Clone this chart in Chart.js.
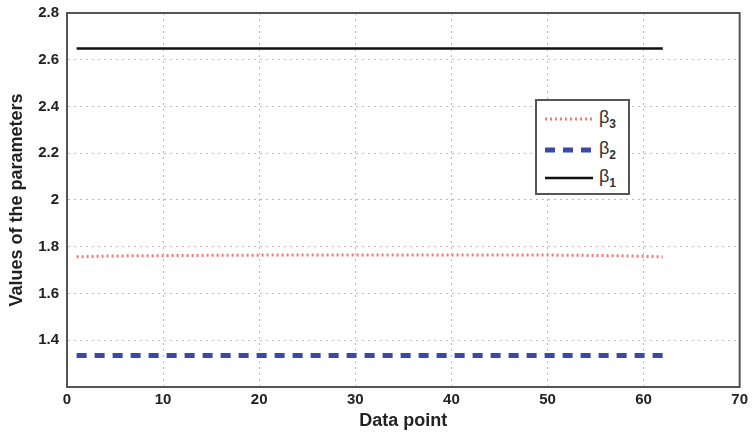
<!DOCTYPE html>
<html lang="en">
<head>
  <meta charset="UTF-8">
  <title>Values of the parameters</title>
  <script src="https://cdn.jsdelivr.net/npm/chart.js"></script>
  <style>
    body { margin: 0; background: #fff; }
    #wrap { position: relative; width: 752px; height: 436px; }
    /* legend box sits inside the plot, like the original */
    #legend {
      position: absolute; left: 535px; top: 99px; width: 91px; height: 92px;
      border: 2px solid #555; background: #fff;
      font-family: "Liberation Sans", Arial, sans-serif; font-weight: bold; color: #333;
    }
    .row { position: absolute; left: 8px; height: 20px; display: flex; align-items: center; }
    .row svg { display: block; }
    .row span { margin-left: 6px; font-size: 18px; font-weight: normal; line-height: 1; }
    .row sub { font-size: 12px; font-weight: bold; }
  </style>
</head>
<body>
  <div id="wrap">
    <canvas id="paramChart" width="752" height="436"></canvas>
    <div id="legend">
      <div class="row" style="top:8px">
        <svg width="48" height="6"><line x1="0" y1="3" x2="48" y2="3" stroke="#f07a7a" stroke-width="3" stroke-dasharray="2,3"/></svg>
        <span>β<sub>3</sub></span>
      </div>
      <div class="row" style="top:39px">
        <svg width="48" height="8"><line x1="0" y1="4" x2="48" y2="4" stroke="#3a48a8" stroke-width="5" stroke-dasharray="10,8"/></svg>
        <span>β<sub>2</sub></span>
      </div>
      <div class="row" style="top:67px">
        <svg width="48" height="6"><line x1="0" y1="3" x2="48" y2="3" stroke="#111" stroke-width="2.5"/></svg>
        <span>β<sub>1</sub></span>
      </div>
    </div>
  </div>

  <script>
    // data points 1..62
    const dataPoints = [1,2,3,4,5,6,7,8,9,10,11,12,13,14,15,16,17,18,19,20,
      21,22,23,24,25,26,27,28,29,30,31,32,33,34,35,36,37,38,39,40,
      41,42,43,44,45,46,47,48,49,50,51,52,53,54,55,56,57,58,59,60,61,62];

    const beta1 = [2.648,2.648,2.648,2.648,2.648,2.648,2.648,2.648,2.648,2.648,
      2.648,2.648,2.648,2.648,2.648,2.648,2.648,2.648,2.648,2.648,
      2.648,2.648,2.648,2.648,2.648,2.648,2.648,2.648,2.648,2.648,
      2.648,2.648,2.648,2.648,2.648,2.648,2.648,2.648,2.648,2.648,
      2.648,2.648,2.648,2.648,2.648,2.648,2.648,2.648,2.648,2.648,
      2.648,2.648,2.648,2.648,2.648,2.648,2.648,2.648,2.648,2.648,2.648,2.648];

    const beta2 = [1.335,1.335,1.335,1.335,1.335,1.335,1.335,1.335,1.335,1.335,
      1.335,1.335,1.335,1.335,1.335,1.335,1.335,1.335,1.335,1.335,
      1.335,1.335,1.335,1.335,1.335,1.335,1.335,1.335,1.335,1.335,
      1.335,1.335,1.335,1.335,1.335,1.335,1.335,1.335,1.335,1.335,
      1.335,1.335,1.335,1.335,1.335,1.335,1.335,1.335,1.335,1.335,
      1.335,1.335,1.335,1.335,1.335,1.335,1.335,1.335,1.335,1.335,1.335,1.335];

    const beta3 = [1.757,1.758,1.759,1.760,1.760,1.761,1.761,1.762,1.762,1.762,
      1.763,1.763,1.763,1.763,1.764,1.764,1.764,1.764,1.764,1.764,
      1.765,1.765,1.765,1.765,1.765,1.765,1.765,1.765,1.765,1.765,
      1.765,1.765,1.765,1.765,1.765,1.765,1.765,1.765,1.765,1.765,
      1.765,1.765,1.765,1.765,1.765,1.765,1.765,1.765,1.765,1.765,
      1.764,1.764,1.764,1.763,1.763,1.762,1.762,1.761,1.760,1.759,1.758,1.756];

    const xTicks = [0, 10, 20, 30, 40, 50, 60, 70];
    const yTicks = [1.2, 1.4, 1.6, 1.8, 2, 2.2, 2.4, 2.6, 2.8];

    const toXY = arr => arr.map((v, i) => ({ x: dataPoints[i], y: v }));

    // box around the whole plot area (matlab style)
    const boxPlugin = {
      id: 'box',
      afterDraw(chart) {
        const { ctx, chartArea: a } = chart;
        ctx.save();
        ctx.strokeStyle = '#555';
        ctx.lineWidth = 2;
        ctx.strokeRect(a.left, a.top, a.right - a.left, a.bottom - a.top);
        ctx.restore();
      }
    };

    const tickFont = { family: '"Liberation Sans", Arial, sans-serif', size: 15, weight: 'bold' };
    const titleFont = { family: '"Liberation Sans", Arial, sans-serif', size: 18, weight: 'bold' };

    new Chart(document.getElementById('paramChart'), {
      type: 'line',
      data: {
        datasets: [
          { label: 'β3', data: toXY(beta3), borderColor: '#f07a7a', borderWidth: 3, borderDash: [2, 3], pointRadius: 0, fill: false },
          { label: 'β2', data: toXY(beta2), borderColor: '#3a48a8', borderWidth: 5, borderDash: [10, 8], pointRadius: 0, fill: false },
          { label: 'β1', data: toXY(beta1), borderColor: '#111', borderWidth: 2.5, pointRadius: 0, fill: false }
        ]
      },
      options: {
        responsive: false,
        animation: false,
        layout: { padding: { top: 13, right: 12, left: 0, bottom: 0 } },
        plugins: { legend: { display: false }, tooltip: { enabled: false } },
        scales: {
          x: {
            type: 'linear', min: 0, max: 70,
            afterBuildTicks: s => { s.ticks = xTicks.map(v => ({ value: v })); },
            afterFit: s => { s.height = 49; },
            grid: { color: '#bbb', lineWidth: 1, tickLength: 0 },
            border: { color: '#555', width: 2, dash: [2, 4] },
            ticks: { color: '#222', font: tickFont, padding: 4 },
            title: { display: true, text: 'Data point', color: '#222', font: titleFont, padding: { top: 2 } }
          },
          y: {
            min: 1.2, max: 2.8,
            afterBuildTicks: s => { s.ticks = yTicks.map(v => ({ value: v })); },
            afterFit: s => { s.width = 67; s.paddingTop = 0; },
            grid: { color: '#bbb', lineWidth: 1, tickLength: 0 },
            border: { color: '#555', width: 2, dash: [2, 4] },
            ticks: {
              color: '#222', font: tickFont, padding: 8,
              callback: v => (v === 1.2 ? '' : String(Math.round(v * 10) / 10))
            },
            title: { display: true, text: 'Values of the parameters', color: '#222', font: titleFont, padding: { top: 6, bottom: 0 } }
          }
        }
      },
      plugins: [boxPlugin]
    });
  </script>
</body>
</html>
